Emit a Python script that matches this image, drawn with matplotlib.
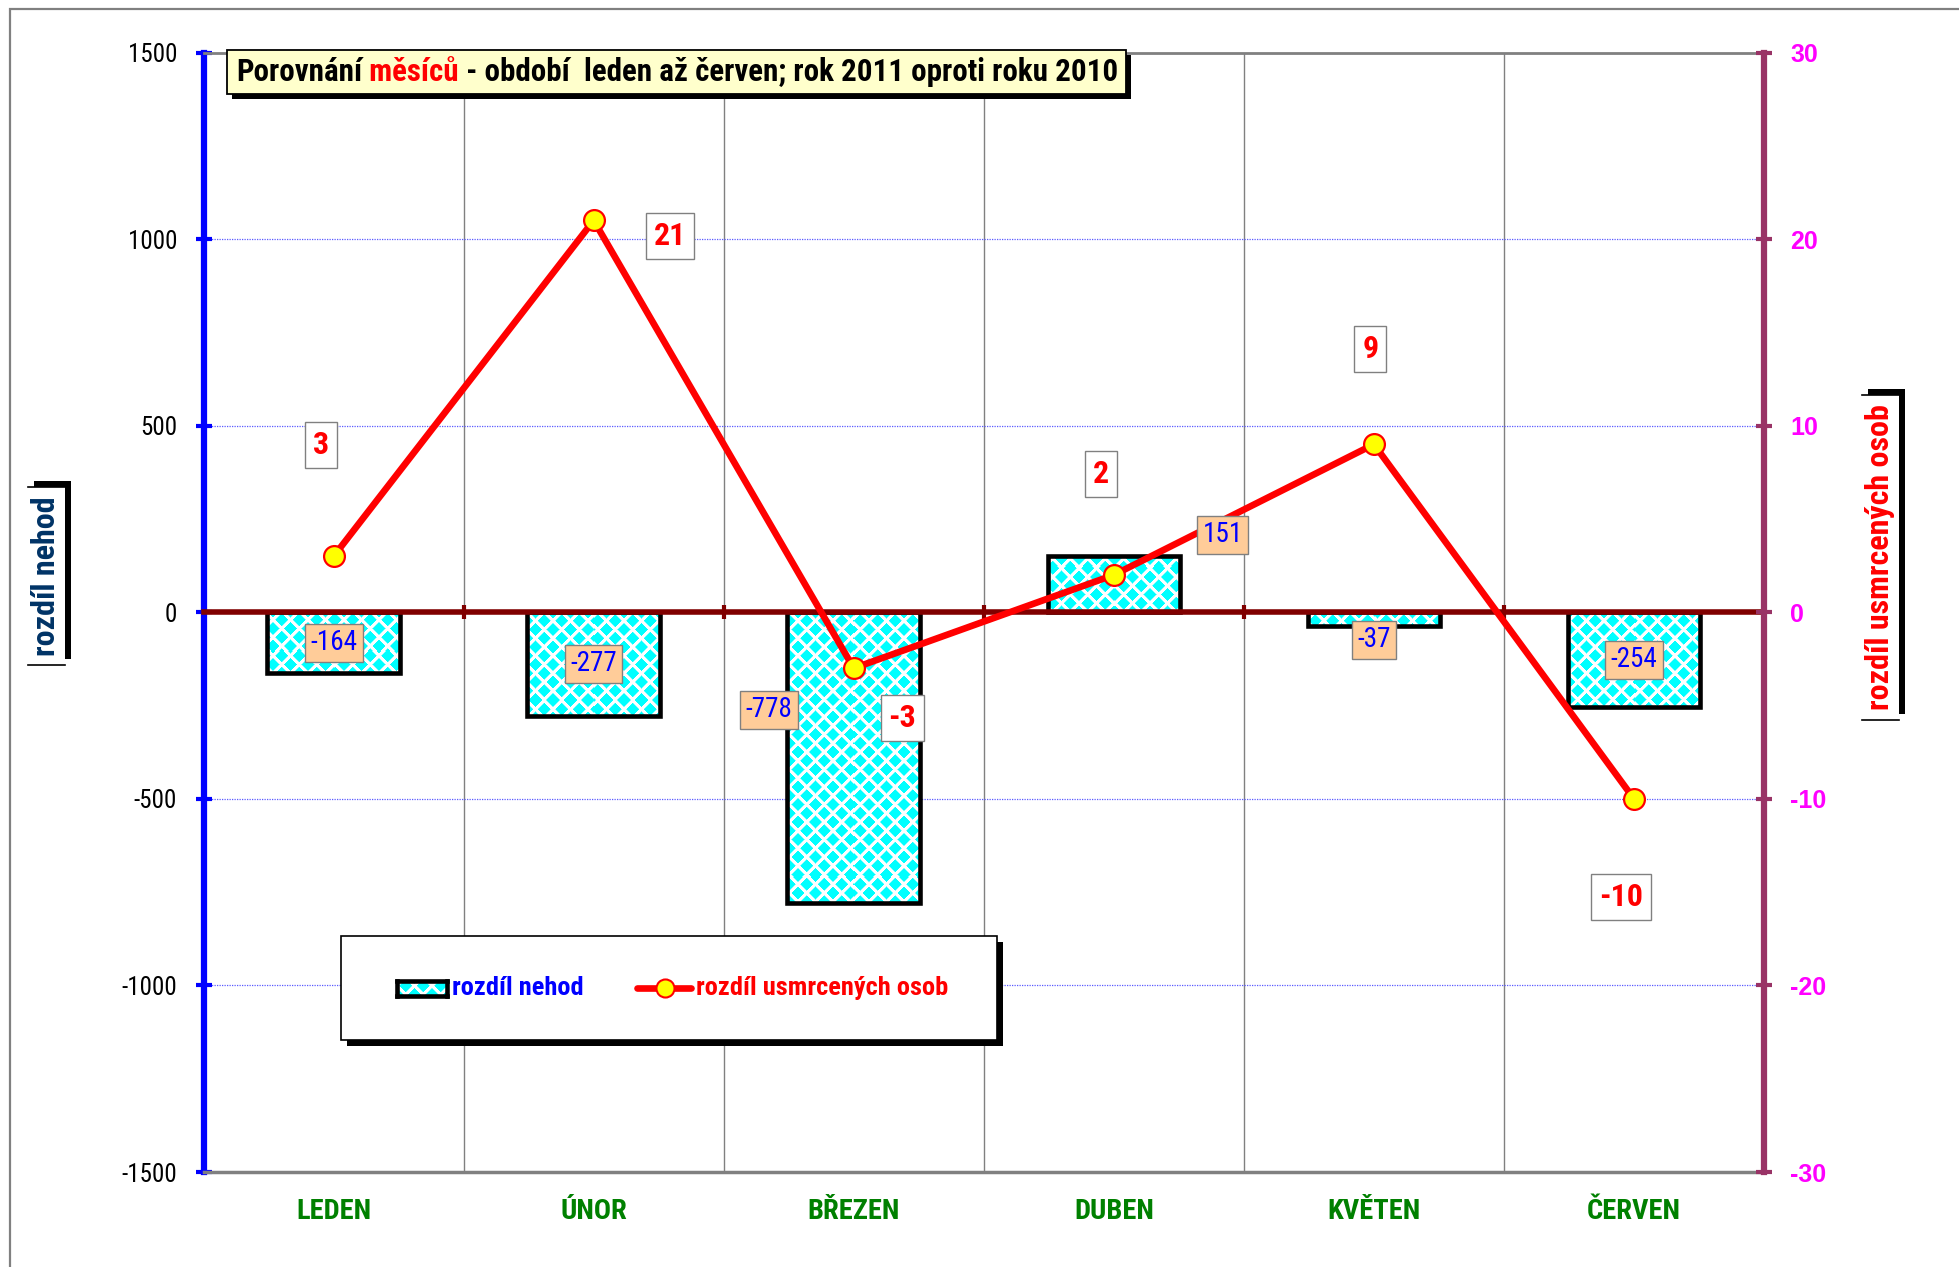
import numpy as np
import matplotlib
matplotlib.use("Agg")
import matplotlib.pyplot as plt
from matplotlib import font_manager as fm
from matplotlib.patches import Rectangle
from matplotlib.lines import Line2D
from matplotlib.transforms import blended_transform_factory

# ---------------- data ----------------
months = ["LEDEN", "ÚNOR", "BŘEZEN", "DUBEN", "KVĚTEN", "ČERVEN"]
accidents_diff = [-164, -277, -778, 151, -37, -254]      # rozdíl nehod (left axis)
deaths_diff = [3, 21, -3, 2, 9, -10]                     # rozdíl usmrcených osob (right axis)
left_ticks = [-1500, -1000, -500, 0, 500, 1000, 1500]
right_ticks = [-30, -20, -10, 0, 10, 20, 30]
title_parts = [("Porovnání", "black"), (" měsíců", "red"),
               (" - období  leden až červen; rok 2011 oproti roku 2010", "black")]
legend_labels = ["rozdíl nehod", "rozdíl usmrcených osob"]
left_axis_title = "rozdíl nehod"
right_axis_title = "rozdíl usmrcených osob"

# label placement offsets (dx in categories, dy in axis units) relative to bar middle / point
bar_label_offsets = [(0, 0), (0, 0), (-0.327, 128), (0.418, 132), (0, -55), (0, 0)]
line_label_offsets = [(-0.048, 5.97), (0.293, -0.84), (0.187, -2.69),
                      (-0.048, 5.43), (-0.014, 5.13), (-0.048, -5.27)]


# ---------------- fonts ----------------
def _w(f):
    w = f.weight
    if isinstance(w, str):
        w = {"bold": 700, "normal": 400, "regular": 400, "book": 400}.get(w, 400)
    return w


def _cond(f):
    st = f.stretch
    if isinstance(st, str):
        return st in ("condensed", "semi-condensed", "extra-condensed", "ultra-condensed")
    return st < 500


found = [f for f in fm.fontManager.ttflist
         if _cond(f) and "Mono" not in f.name and "Serif" not in f.name and f.style == "normal"]
pref = ["Liberation Sans Narrow", "Arial Narrow", "Roboto Condensed", "Open Sans Condensed",
        "DejaVu Sans", "Noto Sans"]


def pick(bold):
    cands = [f for f in found if (_w(f) >= 600) == bold]
    cands.sort(key=lambda f: (pref.index(f.name) if f.name in pref else 99,
                              abs(_w(f) - (700 if bold else 400))))
    if cands:
        return fm.FontProperties(fname=cands[0].fname)
    return fm.FontProperties(family="Liberation Sans", weight="bold" if bold else "normal")


NR = pick(False)
NB = pick(True)

W_PX, H_PX, DPI = 1959, 1267, 100
fig = plt.figure(figsize=(W_PX / DPI, H_PX / DPI), dpi=DPI)
fig.patch.set_facecolor("white")


def fx(px):
    return px / W_PX


def fy(py):
    return 1 - py / H_PX


# outer chart-area border (top and left visible)
fig.add_artist(Rectangle((fx(10), -0.05), 1.2, fy(9) + 0.05, transform=fig.transFigure,
                         fill=False, ec="#808080", lw=1.6, zorder=0.5))

# ---------------- main axes ----------------
ax_l, ax_r, ax_t, ax_b = 203.6, 1764.0, 52.5, 1172.0
ax = fig.add_axes([fx(ax_l), fy(ax_b), (ax_r - ax_l) / W_PX, (ax_b - ax_t) / H_PX])
ax.set_facecolor("white")
x = np.arange(len(months))

ax.set_axisbelow(True)
ax.set_xticks(np.arange(-0.5, len(months), 1.0))
ax.set_xticklabels([])
ax.xaxis.grid(True, color="#808080", lw=1.0)
ax.set_yticks(left_ticks)
ax.set_yticklabels([str(v) for v in left_ticks], fontproperties=NR, fontsize=18)
ax.yaxis.grid(True, color="#5a5aff", lw=0.9, ls=(0, (1, 1)))

ax.spines["bottom"].set_position(("data", 0))
ax.spines["bottom"].set_color("#800000")
ax.spines["bottom"].set_linewidth(4)
ax.spines["top"].set_color("#808080")
ax.spines["top"].set_linewidth(2)
ax.spines["left"].set_color("#0000ff")
ax.spines["left"].set_linewidth(4.5)
ax.spines["right"].set_visible(False)
ax.tick_params(axis="x", direction="inout", length=10, width=3, color="#800000")
ax.tick_params(axis="y", direction="inout", length=12, width=3, color="#0000ff", pad=13)
ax.axhline(-1500, color="#808080", lw=2.5, clip_on=False, zorder=2.6)

bars = ax.bar(x, accidents_diff, width=0.51, facecolor="none", edgecolor="black",
              lw=3.3, zorder=2)

# diamond checker fill (cyan on white) clipped to each bar
bb = ax.get_window_extent()
Wp, Hp = int(round(bb.width)), int(round(bb.height))
yy, xx = np.mgrid[0:Hp, 0:Wp] + 0.5
p = 17.5
d1 = np.abs(((xx + p / 2) % p) - p / 2) + np.abs(((yy + p / 2) % p) - p / 2)
d2 = np.abs((xx % p) - p / 2) + np.abs((yy % p) - p / 2)
dist = np.minimum(d1, d2)
alpha = np.clip(0.37 * p - dist + 0.5, 0, 1)
pattern = np.ones((Hp, Wp, 3))
pattern[..., 0] = 1 - alpha
for b in bars:
    im = ax.imshow(pattern, extent=(-0.5, len(months) - 0.5, -1500, 1500), origin="lower",
                   aspect="auto", interpolation="nearest", zorder=1.5)
    im.set_clip_path(b)

ax.set_xlim(-0.5, len(months) - 0.5)
ax.set_ylim(-1500, 1500)

trans = blended_transform_factory(ax.transData, ax.transAxes)
for i, m in enumerate(months):
    ax.text(i, -0.0357, m, transform=trans, ha="center", va="center", color="#008000",
            fontproperties=NB, fontsize=20.5)

# ---------------- secondary axes ----------------
ax2 = ax.twinx()
ax2.set_ylim(-30, 30)
ax2.set_yticks(right_ticks)
ax2.set_yticklabels([str(v) for v in right_ticks], family="Liberation Sans", fontsize=18,
                    fontweight="bold", color="#ff00ff")
for s in ["left", "top", "bottom"]:
    ax2.spines[s].set_visible(False)
ax2.spines["right"].set_color("#993366")
ax2.spines["right"].set_linewidth(4.5)
ax2.tick_params(axis="y", direction="inout", length=12, width=3, color="#993366", pad=13)

ax2.plot(x, deaths_diff, color="red", lw=4.8, marker="o", ms=15, mfc="yellow",
         mec="red", mew=1.6, zorder=3, solid_joinstyle="round", solid_capstyle="round")

for i, (v, (dx, dy)) in enumerate(zip(accidents_diff, bar_label_offsets)):
    ax2.text(i + dx, v / 2 + dy, str(v), transform=ax.transData, ha="center", va="center",
             color="#0000ff", fontproperties=NR, fontsize=19.5, zorder=6,
             bbox=dict(boxstyle="square,pad=0.2", fc="#ffcc99", ec="#808080", lw=1))

for i, (v, (dx, dy)) in enumerate(zip(deaths_diff, line_label_offsets)):
    ax2.text(i + dx, v + dy, str(v), ha="center", va="center", color="red",
             fontproperties=NB, fontsize=23, zorder=6,
             bbox=dict(boxstyle="square,pad=0.25", fc="white", ec="#808080", lw=1))

# ---------------- title ----------------
renderer = fig.canvas.get_renderer()
xcur = fx(236)
ybase = fy(81)
tparts = []
for s, c in title_parts:
    t = fig.text(xcur, ybase, s, color=c, fontproperties=NB, fontsize=22.3,
                 va="baseline", ha="left", zorder=10)
    e = t.get_window_extent(renderer)
    xcur = e.x1 / W_PX
    tparts.append(t)
tx0 = tparts[0].get_window_extent(renderer).x0
tx1 = tparts[-1].get_window_extent(renderer).x1
bx0, bx1 = tx0 - 9, tx1 + 8
by_top, by_bot = 50, 94
fig.add_artist(Rectangle((fx(bx0 + 5), fy(by_bot + 5)), (bx1 - bx0) / W_PX, (by_bot - by_top) / H_PX,
                         transform=fig.transFigure, fc="black", ec="none", zorder=8))
fig.add_artist(Rectangle((fx(bx0), fy(by_bot)), (bx1 - bx0) / W_PX, (by_bot - by_top) / H_PX,
                         transform=fig.transFigure, fc="#ffffcc", ec="black", lw=1.3, zorder=9))

# ---------------- legend ----------------
lx0, lx1, ly0, ly1 = 341, 997, 936, 1040
fig.add_artist(Rectangle((fx(lx0 + 6), fy(ly1 + 6)), (lx1 - lx0) / W_PX, (ly1 - ly0) / H_PX,
                         transform=fig.transFigure, fc="black", ec="none", zorder=8))
fig.add_artist(Rectangle((fx(lx0), fy(ly1)), (lx1 - lx0) / W_PX, (ly1 - ly0) / H_PX,
                         transform=fig.transFigure, fc="white", ec="black", lw=1.2, zorder=9))
ly = 988
# bar handle with the same diamond fill
hx0, hx1, hy0, hy1 = 397, 447, 981, 996
hax = fig.add_axes([fx(hx0), fy(hy1), (hx1 - hx0) / W_PX, (hy1 - hy0) / H_PX], zorder=12)
hax.imshow(pattern[4:4 + (hy1 - hy0), 0:(hx1 - hx0)], aspect="auto", interpolation="nearest")
hax.set_xticks([])
hax.set_yticks([])
for sp in hax.spines.values():
    sp.set_linewidth(3.3)
    sp.set_color("black")
fig.text(fx(452), fy(ly), legend_labels[0], color="#0000ff", fontproperties=NB, fontsize=19,
         va="center", ha="left", zorder=10)
fig.add_artist(Line2D([fx(637), fx(691)], [fy(ly), fy(ly)], transform=fig.transFigure,
                      color="red", lw=4.8, solid_capstyle="round", zorder=10))
fig.add_artist(Line2D([fx(665)], [fy(ly)], transform=fig.transFigure, marker="o", ms=13,
                      mfc="yellow", mec="red", mew=1.5, ls="none", zorder=11))
fig.text(fx(696), fy(ly), legend_labels[1], color="red", fontproperties=NB, fontsize=19,
         va="center", ha="left", zorder=10)


# ---------------- axis titles ----------------
def axis_title(x0, x1, y0, y1, text, color):
    w, h = (x1 - x0) / W_PX, (y1 - y0) / H_PX
    fig.add_artist(Rectangle((fx(x0 + 6), fy(y1 - 6)), w, h, transform=fig.transFigure,
                             fc="black", ec="none", zorder=8))
    fig.add_artist(Rectangle((fx(x0), fy(y1)), w, h, transform=fig.transFigure,
                             fc="white", ec="none", zorder=9))
    for yy_ in (y0, y1):
        fig.add_artist(Line2D([fx(x0), fx(x1)], [fy(yy_), fy(yy_)], transform=fig.transFigure,
                              color="black", lw=1.2, zorder=9.5))
    fig.text(fx((x0 + x1) / 2), fy((y0 + y1) / 2), text, rotation=90, color=color,
             fontproperties=NB, fontsize=23, ha="center", va="center", zorder=10)


axis_title(27.5, 65, 487, 665, left_axis_title, "#003366")
axis_title(1861.6, 1899, 395, 720, right_axis_title, "red")

fig.savefig("out.png", dpi=DPI, facecolor="white")
